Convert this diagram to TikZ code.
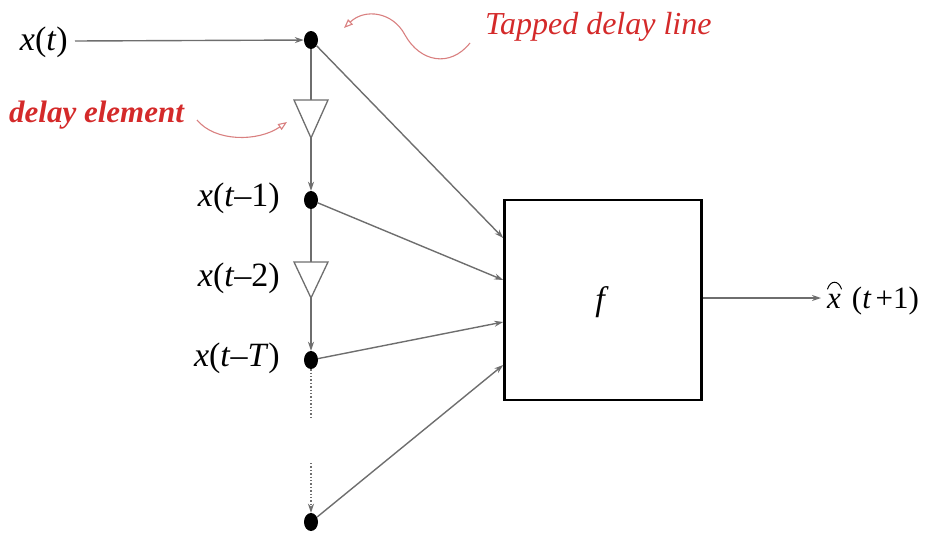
\documentclass[tikz,border=0pt]{standalone}
\usepackage{fontspec}
\setmainfont{Liberation Serif}
\usetikzlibrary{arrows.meta,shapes.geometric}
\definecolor{lgray}{HTML}{6E6E6E}
\definecolor{tred}{HTML}{D42A2A}
\definecolor{cpink}{HTML}{D98080}
\tikzset{
  ln/.style={draw=lgray, line width=1.4pt},
  arr/.style={ln, -{Stealth[length=9pt,width=6pt]}},
  dotnode/.style={ellipse, fill=black, minimum width=14pt, minimum height=18pt, inner sep=0pt},
  lab/.style={font=\fontsize{34}{36}\selectfont, inner sep=0pt},
  dly/.style={draw=lgray, line width=1.3pt, fill=white},
  note/.style={draw=cpink, line width=1.1pt, -{Triangle[open,length=9pt,width=7pt]}},
}
\begin{document}
\begin{tikzpicture}[x=1pt,y=-1pt]
\useasboundingbox (0,0) rectangle (926,533);
% taps
\node[dotnode] (n1) at (311,40) {};
\node[dotnode] (n2) at (311,200) {};
\node[dotnode] (n3) at (311,360) {};
\node[dotnode] (n4) at (311,522) {};
% labels
\node[lab, anchor=east] (xt) at (68,42) {\textit{x}(\textit{t})};
\node[lab, anchor=east] (x1) at (280,198) {\textit{x}(\textit{t}–1)};
\node[lab, anchor=east] (x2) at (280,278) {\textit{x}(\textit{t}–2)};
\node[lab, anchor=east] (xT) at (280,358) {\textit{x}(\textit{t}–\textit{T})};
% delay elements
\coordinate (d1t) at (311,100); \coordinate (d1b) at (311,138);
\coordinate (d2t) at (311,262); \coordinate (d2b) at (311,298);
\draw[dly] (294,100) -- (328,100) -- (d1b) -- cycle;
\draw[dly] (294,262) -- (328,262) -- (d2b) -- cycle;
% box
\node[draw=black, line width=2.6pt, minimum width=197pt, minimum height=200pt, inner sep=0pt] (box) at (603,300) {};
\node[font=\fontsize{34}{36}\selectfont\itshape] (f) at (600,302) {f};
% connectors
\coordinate (xs) at (75,41);
\draw[arr] (xs) -- (n1);
\draw[ln] (n1) -- (d1t);
\draw[arr] (d1b) -- (n2);
\draw[ln] (n2) -- (d2t);
\draw[arr] (d2b) -- (n3);
\coordinate (g1) at (311,418);
\coordinate (g2) at (311,463);
\draw[ln, dotted] (n3) -- (g1);
\draw[arr, dotted] (g2) -- (n4);
\draw[arr] (n1) -- ([yshift=62pt]box.west);
\draw[arr] (n2) -- ([yshift=20pt]box.west);
\draw[arr] (n3) -- ([yshift=-22pt]box.west);
\draw[arr] (n4) -- ([yshift=-65pt]box.west);
\node[font=\fontsize{31}{33}\selectfont, inner sep=0pt, anchor=west] (out) at (827,301) {\textit{x}\hspace{11pt}(\textit{t}\hspace{4pt}+1)};
\draw[line width=1pt, line cap=round] (out.west) ++(0.5,-12) .. controls +(3,-9) and +(-3,-9) .. ++(14,0);
\coordinate (oe) at (821,298);
\draw[arr] (box.east |- oe) -- (oe);
% annotations
\node[font=\fontsize{32}{34}\selectfont\itshape, text=tred, anchor=west, inner sep=0pt] (tdl) at (485,27) {Tapped delay line};
\node[font=\fontsize{31}{33}\selectfont\bfseries\itshape, text=tred, anchor=west, inner sep=0pt] (de) at (9,115) {delay element};
\coordinate (a1) at (470,43); \coordinate (a2) at (405,35); \coordinate (a3) at (344,28);
\draw[note] (a1) .. controls (450,68) and (420,62) .. (a2) .. controls (393,12) and (365,8) .. (a3);
\coordinate (b1) at (197,120); \coordinate (b2) at (287,122);
\draw[note] (b1) .. controls (215,142) and (258,142) .. (b2);
\end{tikzpicture}
\end{document}
